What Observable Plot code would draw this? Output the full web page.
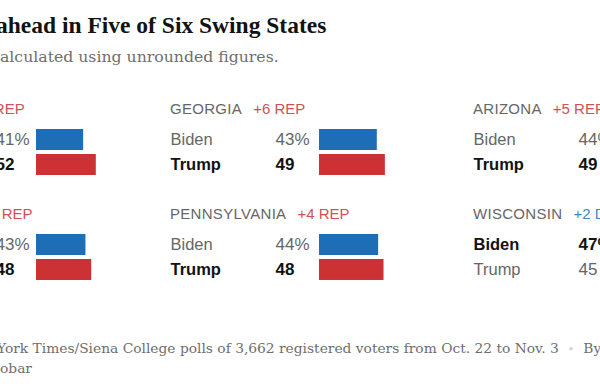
<!DOCTYPE html>
<html>
<head>
<meta charset="utf-8">
<script src="https://cdn.jsdelivr.net/npm/d3@7"></script>
<script src="https://cdn.jsdelivr.net/npm/@observablehq/plot@0.6"></script>
<style>
  html, body { margin: 0; padding: 0; background: #fff; }
  body { width: 600px; height: 391px; overflow: hidden; position: relative; }
  .abs { position: absolute; white-space: nowrap; }
  #title { left: -4px; top: 10px; font: bold 23.5px "Liberation Serif", serif; color: #121212; line-height: 30px; }
  #subtitle { left: 0px; top: 46.5px; font: 15.7px "DejaVu Serif", serif; color: #6e6e6e; line-height: 20px; }
  .source { left: -3px; font: 13.8px "DejaVu Serif", serif; color: #6e6e6e; line-height: 19px; }
  .dot { color: #cfcfcf; padding: 0 9px; font-size: 11px; }
  .head { font: 15px "Liberation Sans", sans-serif; color: #666; line-height: 18px; display: flex; }
  .head .name { letter-spacing: 0.3px; }
  .head .margin { margin-left: 11px; }
  svg { max-width: none !important; overflow: visible; background: transparent !important; }
</style>
</head>
<body>
<div id="root"></div>
<script>
// ---- data ----
const states = ["NEVADA", "GEORGIA", "ARIZONA", "MICHIGAN", "PENNSYLVANIA", "WISCONSIN"];
const bidenValues = [41, 43, 44, 43, 44, 47];
const trumpValues = [52, 49, 49, 48, 48, 45];
const marginLabels = ["+11 REP", "+6 REP", "+5 REP", "+5 REP", "+4 REP", "+2 DEM"];
const candidates = ["Biden", "Trump"];
const titleText = "ahead in Five of Six Swing States";
const subtitleText = "alculated using unrounded figures.";
const sourceLine1 = "York Times/Siena College polls of 3,662 registered voters from Oct. 22 to Nov. 3";
const sourceLine1End = "By";
const sourceLine2 = "obar";

// ---- layout ----
const colors = { Biden: "#1d6eb6", Trump: "#cc3234" };
const marginColors = { REP: "#cf5157", DEM: "#3f84c5" };
const cols = [
  { label: -108, num: -5, bar: 36, k: 1.15 },
  { label: 170, num: 275, bar: 319, k: 1.345 },
  { label: 473, num: 578, bar: 622, k: 1.345 }
];
const rowHeadTop = [100, 205];
const rowSvgTop = [125, 229.5];
const xMax = 60;

const root = document.getElementById("root");

function addDiv(cls, id, style) {
  const d = document.createElement("div");
  d.className = cls;
  if (id) d.id = id;
  Object.assign(d.style, style || {});
  root.appendChild(d);
  return d;
}

addDiv("abs", "title").textContent = titleText;
addDiv("abs", "subtitle").textContent = subtitleText;
const s1 = addDiv("abs source", null, { top: "339px" });
s1.append(sourceLine1);
const dot = document.createElement("span"); dot.className = "dot"; dot.textContent = "•";
s1.append(dot, sourceLine1End);
addDiv("abs source", null, { top: "358.5px", left: "0px" }).textContent = sourceLine2;

states.forEach((state, i) => {
  const col = cols[i % 3];
  const row = Math.floor(i / 3);
  const data = candidates.map((c) => {
    const v = c === "Biden" ? bidenValues[i] : trumpValues[i];
    const other = c === "Biden" ? trumpValues[i] : bidenValues[i];
    return { candidate: c, value: v, winner: v > other, label: c === "Biden" ? `${v}%` : `${v}` };
  });

  // header
  const head = addDiv("abs head", null, { left: col.label + "px", top: rowHeadTop[row] + "px" });
  const nm = document.createElement("span"); nm.className = "name"; nm.textContent = state;
  const mg = document.createElement("span"); mg.className = "margin"; mg.textContent = marginLabels[i];
  mg.style.color = marginLabels[i].includes("REP") ? marginColors.REP : marginColors.DEM;
  head.append(nm, mg);

  const ml = col.bar - col.label;
  const width = ml + xMax * col.k;
  const common = { y: "candidate", frameAnchor: "left", textAnchor: "start", fontFamily: "Liberation Sans" };
  const chart = Plot.plot({
    width,
    height: 54,
    marginLeft: ml,
    marginRight: 0,
    marginTop: 4,
    marginBottom: 4,
    style: { background: "transparent", fontFamily: "Liberation Sans", overflow: "visible" },
    x: { domain: [0, xMax], axis: null },
    y: { domain: candidates, axis: null, paddingInner: 0.16, paddingOuter: 0 },
    color: { domain: candidates, range: [colors.Biden, colors.Trump] },
    marks: [
      Plot.barX(data, { x: "value", y: "candidate", fill: "candidate" }),
      Plot.text(data, { ...common, fontSize: 16.5, filter: (d) => !d.winner, text: "candidate", dx: -ml, fill: "#666" }),
      Plot.text(data, { ...common, fontSize: 16.5, filter: (d) => d.winner, text: "candidate", dx: -ml, fill: "#121212", fontWeight: "bold" }),
      Plot.text(data, { ...common, fontSize: 17, filter: (d) => !d.winner, text: "label", dx: -(col.bar - col.num), fill: "#666" }),
      Plot.text(data, { ...common, fontSize: 17, filter: (d) => d.winner, text: "label", dx: -(col.bar - col.num), fill: "#121212", fontWeight: "bold" })
    ]
  });
  chart.style.position = "absolute";
  chart.style.left = col.label + "px";
  chart.style.top = rowSvgTop[row] + "px";
  root.appendChild(chart);
});
</script>
</body>
</html>
